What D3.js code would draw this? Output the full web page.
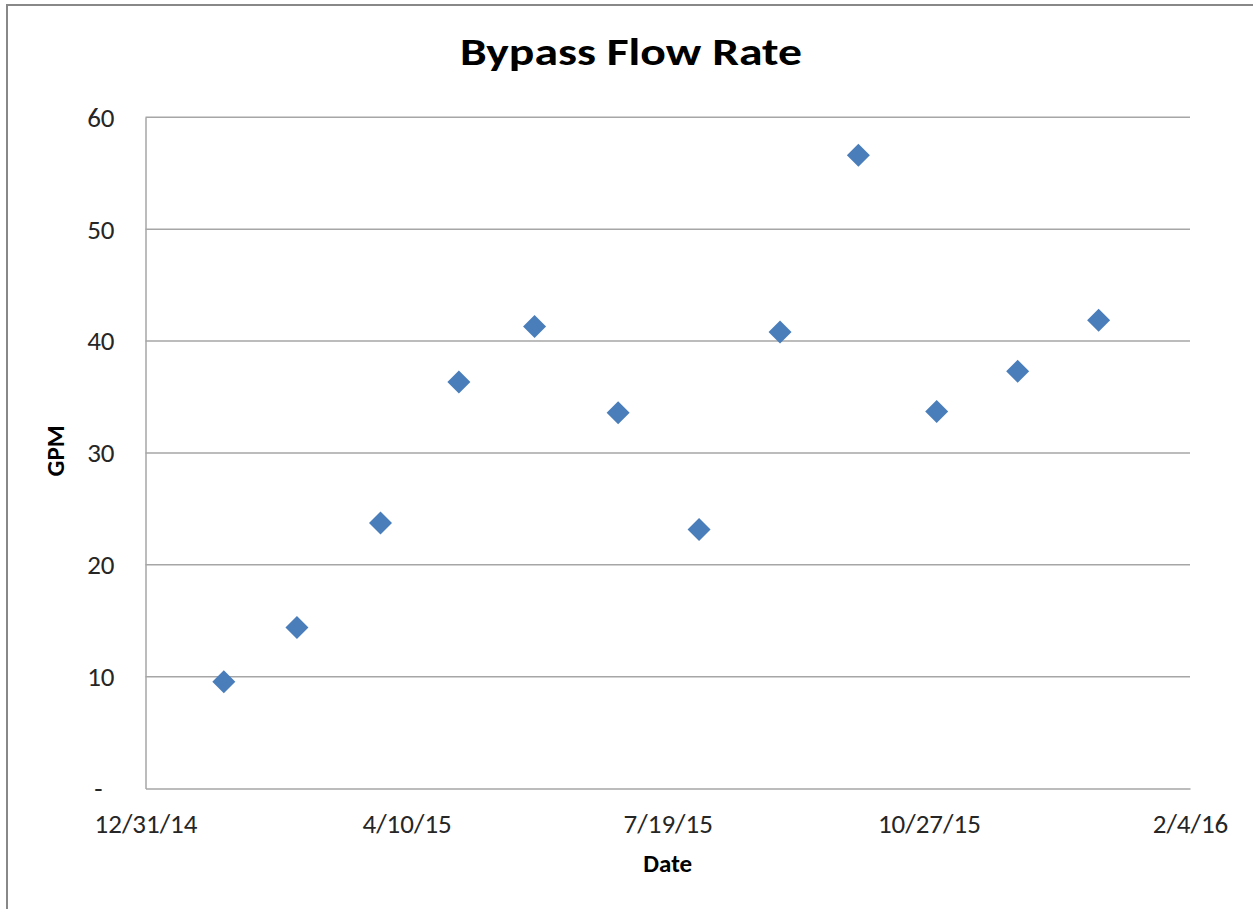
<!DOCTYPE html>
<html>
<head>
<meta charset="utf-8">
<script src="https://cdn.jsdelivr.net/npm/d3@7"></script>
<style>
  html, body { margin: 0; padding: 0; background: #fff; }
  svg { display: block; }
  text { font-family: Carlito, Lato, "Open Sans", sans-serif; }
</style>
</head>
<body>
<svg id="chart" width="1253" height="909"></svg>
<script>
// ---- data ----
const dates = ["2015-01-30","2015-02-27","2015-03-31","2015-04-30","2015-05-29","2015-06-30",
               "2015-07-31","2015-08-31","2015-09-30","2015-10-30","2015-11-30","2015-12-31"];
const gpm = [9.55, 14.4, 23.75, 36.35, 41.3, 33.6, 23.15, 40.8, 56.6, 33.7, 37.3, 41.85];
const xTickLabels = ["12/31/14", "4/10/15", "7/19/15", "10/27/15", "2/4/16"];
const yTickValues = [0, 10, 20, 30, 40, 50, 60];
const yTickLabels = ["-", "10", "20", "30", "40", "50", "60"];
const title = "Bypass Flow Rate";
const xTitle = "Date";
const yTitle = "GPM";

// ---- layout ----
const svg = d3.select("#chart");
const plotL = 145.5, plotR = 1190, plotT = 117.3, plotB = 788.6;
const parseLabel = d3.utcParse("%m/%d/%y");
const parseDate = d3.utcParse("%Y-%m-%d");
const xTicks = xTickLabels.map(parseLabel);
const fontStack = "Carlito, Lato, 'Open Sans', sans-serif";

const x = d3.scaleUtc().domain([xTicks[0], xTicks[xTicks.length - 1]]).range([plotL, plotR]);
const y = d3.scaleLinear().domain([0, 60]).range([plotB, plotT]);

// outer border
svg.append("rect").attr("x", 7).attr("y", 5).attr("width", 1260).attr("height", 920)
  .attr("fill", "none").attr("stroke", "#888").attr("stroke-width", 2);

// gridlines
svg.append("g").selectAll("line").data(yTickValues.filter(v => v > 0)).join("line")
  .attr("x1", plotL).attr("x2", plotR)
  .attr("y1", d => y(d)).attr("y2", d => y(d))
  .attr("stroke", "#a6a6a6").attr("stroke-width", 1.5);

// y axis
const yAxis = d3.axisLeft(y).tickValues(yTickValues)
  .tickFormat((d, i) => yTickLabels[i]).tickSize(0).tickPadding(31);
const gy = svg.append("g").attr("transform", `translate(${plotL},0)`).call(yAxis);
gy.select(".domain").attr("stroke", "#a6a6a6").attr("stroke-width", 1.5);
gy.selectAll("text").attr("font-size", 27).attr("fill", "#262626")
  .attr("font-family", fontStack)
  .attr("dy", "0.33em")
  .filter(d => d === 0).attr("dx", -12);

// x axis
const xAxis = d3.axisBottom(x).tickValues(xTicks)
  .tickFormat((d, i) => xTickLabels[i]).tickSize(0).tickPadding(25);
const gx = svg.append("g").attr("transform", `translate(0,${plotB})`).call(xAxis);
gx.select(".domain").attr("stroke", "#a6a6a6").attr("stroke-width", 1.5);
gx.selectAll("text").attr("font-size", 27).attr("fill", "#262626")
  .attr("font-family", fontStack);

// points (diamonds)
const r = 11.5;
svg.append("g").selectAll("path").data(dates.map((d, i) => ({ date: parseDate(d), v: gpm[i] }))).join("path")
  .attr("d", `M0,${-r}L${r},0L0,${r}L${-r},0Z`)
  .attr("transform", d => `translate(${x(d.date)},${y(d.v)})`)
  .attr("fill", "#4a7ebb");

// title
svg.append("text").attr("x", 631).attr("y", 65).attr("text-anchor", "middle")
  .attr("font-size", 38).attr("font-weight", "bold").attr("fill", "#000")
  .attr("textLength", 342).attr("lengthAdjust", "spacingAndGlyphs")
  .text(title);

// axis titles
svg.append("text").attr("x", (plotL + plotR) / 2).attr("y", 872).attr("text-anchor", "middle")
  .attr("font-size", 25).attr("font-weight", "bold").attr("fill", "#000").text(xTitle);
svg.append("text").attr("transform", `translate(63.5,${(plotT + plotB) / 2 - 2}) rotate(-90)`)
  .attr("text-anchor", "middle")
  .attr("font-size", 25).attr("font-weight", "bold").attr("fill", "#000").text(yTitle);
</script>
</body>
</html>
